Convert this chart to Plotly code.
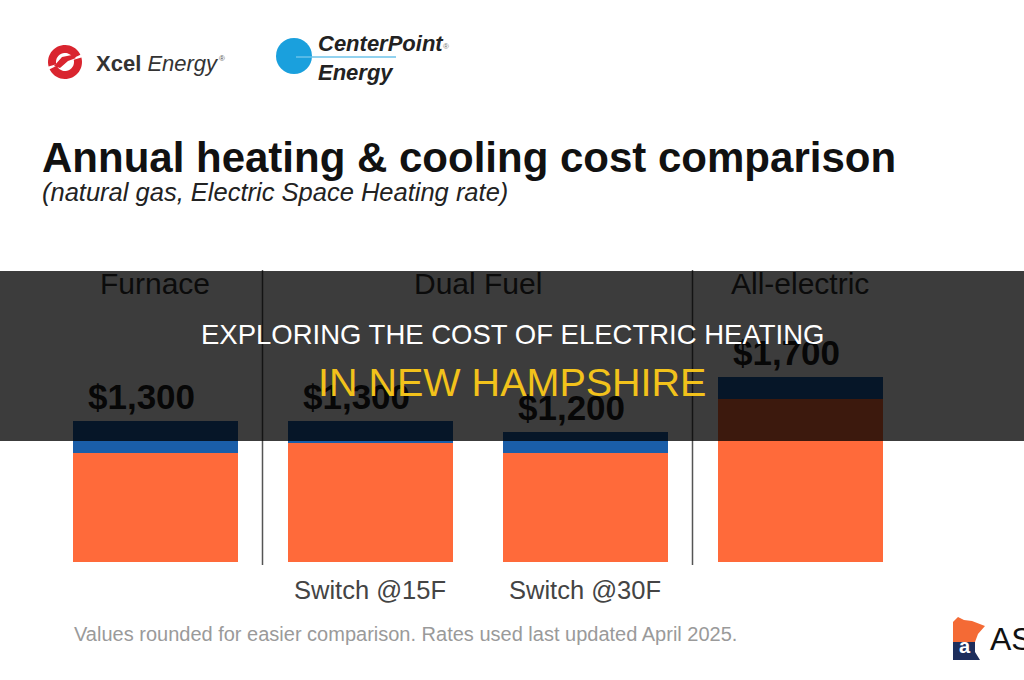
import math
import plotly.graph_objects as go

# ---------------- data ----------------
categories = ["Furnace", "Switch @15F", "Switch @30F", "All-electric"]
heating = [1000, 1100, 1000, 1500]      # orange segment ($)
cooling = [300, 200, 200, 200]          # blue segment ($)
totals = [h + c for h, c in zip(heating, cooling)]
bottom_labels = ["", "Switch @15F", "Switch @30F", ""]
group_headers = ["Furnace", "Dual Fuel", "All-electric"]
group_centers = [0, 1.5, 3]
dividers = [0.5, 2.5]

W, H = 1024, 680
def px(x):
    return x / W
def py(y):
    return 1 - y / H

SANS = "Liberation Sans, Arial, sans-serif"

fig = go.Figure()
fig.add_bar(x=categories, y=heating, marker=dict(color="#FF6A3A", line=dict(width=0)),
            name="Heating", showlegend=False, hoverinfo="skip")
fig.add_bar(x=categories, y=cooling, marker=dict(color="#1A5EA9", line=dict(width=0)),
            name="Cooling", showlegend=False, hoverinfo="skip")

shapes = []
annotations = []

# divider lines (drawn before overlay)
for d in dividers:
    shapes.append(dict(type="line", xref="x", yref="paper", x0=d, x1=d,
                       y0=py(565), y1=py(270), line=dict(color="#555555", width=1.5),
                       layer="above"))

# dark banner overlay
shapes.append(dict(type="rect", xref="paper", yref="paper", x0=0, x1=1,
                   y0=py(441), y1=py(271), fillcolor="rgba(0,0,0,0.765)",
                   line=dict(width=0), layer="above"))

# CenterPoint logo
shapes.append(dict(type="line", xref="paper", yref="paper", x0=px(294), x1=px(396),
                   y0=py(57), y1=py(57), line=dict(color="#6EC3EA", width=1.5)))
shapes.append(dict(type="circle", xref="paper", yref="paper", x0=px(276), x1=px(312),
                   y0=py(74), y1=py(38), fillcolor="#1AA0DD", line=dict(width=0)))
shapes.append(dict(type="line", xref="paper", yref="paper", x0=px(296), x1=px(312),
                   y0=py(57), y1=py(57), line=dict(color="#8FD3F0", width=1)))

def ppath(pts):
    return "M " + " L ".join(f"{px(x):.5f},{py(y):.5f}" for x, y in pts) + " Z"

# Xcel swirl logo (approximation: two thick arcs)
def arc(cx, cy, r_out, r_in, a0, a1, n=24):
    outer = [(cx + r_out * math.cos(math.radians(a0 + (a1 - a0) * i / n)),
              cy - r_out * math.sin(math.radians(a0 + (a1 - a0) * i / n))) for i in range(n + 1)]
    inner = [(cx + r_in * math.cos(math.radians(a1 - (a1 - a0) * i / n)),
              cy - r_in * math.sin(math.radians(a1 - (a1 - a0) * i / n))) for i in range(n + 1)]
    return outer + inner
for a0, a1 in ((25, 195), (205, 375)):
    shapes.append(dict(type="path", xref="paper", yref="paper",
                       path=ppath(arc(65, 62, 17, 9, a0, a1)),
                       fillcolor="#D9252F", line=dict(width=0)))
shapes.append(dict(type="path", xref="paper", yref="paper",
                   path=ppath([(54, 66), (62, 57), (72, 55), (76, 58), (68, 61), (60, 68)]),
                   fillcolor="#D9252F", line=dict(width=0)))

# bottom-right logo (approximation)
mn_top = [(953, 622), (958, 617), (964, 620), (972, 621), (985, 626), (978, 634), (975, 642), (953, 642)]
mn_bot = [(953, 642), (975, 642), (975, 652), (980, 660), (953, 660)]
shapes.append(dict(type="path", xref="paper", yref="paper", path=ppath(mn_top),
                   fillcolor="#F46A35", line=dict(width=0)))
shapes.append(dict(type="path", xref="paper", yref="paper", path=ppath(mn_bot),
                   fillcolor="#1D2E5C", line=dict(width=0)))

def ann(text, x, y, size, color, family=SANS, xanchor="center", xref="paper", yref="paper", **kw):
    annotations.append(dict(text=text, x=x, y=y, xref=xref, yref=yref, showarrow=False,
                            font=dict(size=size, color=color, family=family),
                            xanchor=xanchor, yanchor="middle", **kw))

# logo texts
ann("<b>Xcel</b> <i>Energy</i>", px(94), py(63), 22, "#333333", xanchor="left")
ann("®", px(217), py(58), 8, "#555555", xanchor="left")
ann("<b><i>CenterPoint</i></b>", px(316), py(44), 22, "#222222", xanchor="left")
ann("®", px(441), py(47), 8, "#777777", xanchor="left")
ann("<b><i>Energy</i></b>", px(316), py(73), 22, "#222222", xanchor="left")

# title
ann("<b>Annual heating &amp; cooling cost comparison</b>", px(40), py(157), 42, "#111111", xanchor="left")
ann("<i>(natural gas, Electric Space Heating rate)</i>", px(40), py(192), 25.5, "#222222", xanchor="left")

# group headers (under overlay tint)
for name, c in zip(group_headers, group_centers):
    ann(name, c, py(283), 30, "#0b0b0b", xref="x")

# totals above bars
for cat, t in zip(categories, totals):
    annotations.append(dict(text=f"<b>${t:,.0f}</b>", x=cat, y=t, xref="x", yref="y",
                            showarrow=False, yanchor="bottom", xanchor="center",
                            xshift=-14, yshift=3,
                            font=dict(size=35, color="#070707", family=SANS)))

# bottom labels
for cat, lab in zip(categories, bottom_labels):
    if lab:
        ann(lab, cat, py(590), 25.5, "#444444", xref="x")

# footnote
ann("Values rounded for easier comparison. Rates used last updated April 2025.",
    px(72), py(634), 20, "#9A9A9A", xanchor="left")

# banner text
ann("EXPLORING THE COST OF ELECTRIC HEATING", 0.5, py(334), 27.5, "#FFFFFF")
ann("IN NEW HAMPSHIRE", 0.5, py(382), 39.5, "#F2C21B")

# bottom right logo text
ann("<b>a</b>", px(965), py(646), 20, "#FFFFFF")
ann("AS", px(988), py(639), 32, "#111111", xanchor="left")

fig.update_layout(
    barmode="stack",
    width=W, height=H,
    margin=dict(l=0, r=0, t=0, b=0),
    paper_bgcolor="white", plot_bgcolor="white",
    bargap=1 - 165 / 215,
    xaxis=dict(domain=[px(47.5), px(907.5)], range=[-0.5, 3.5], showticklabels=False,
               showgrid=False, zeroline=False, showline=False, ticks=""),
    yaxis=dict(domain=[py(562), py(271)], range=[0, 2680], showticklabels=False,
               showgrid=False, zeroline=False, showline=False, ticks=""),
    shapes=shapes,
    annotations=annotations,
)

fig.write_html("out.html")
